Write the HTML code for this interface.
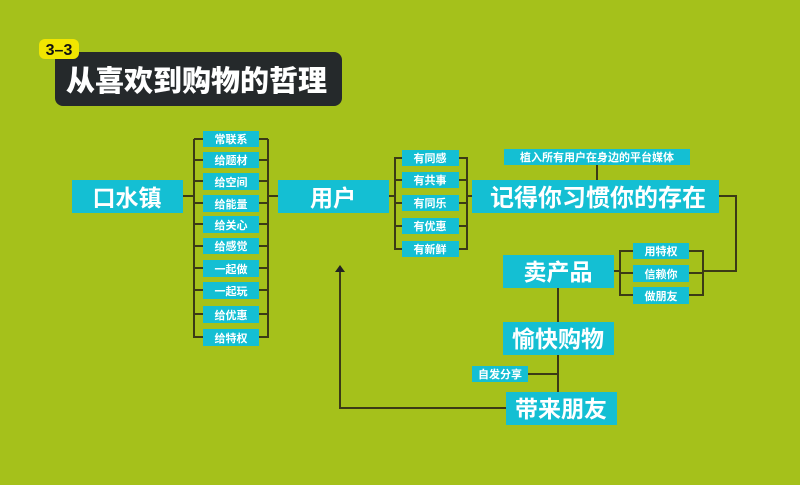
<!DOCTYPE html>
<html><head><meta charset="utf-8"><style>
html,body{margin:0;padding:0;}
body{width:800px;height:480px;background:#a5c11b;overflow:hidden;font-family:"Liberation Sans","Noto Sans CJK SC",sans-serif;}
</style></head><body>
<svg width="800" height="480" viewBox="0 0 800 480" xmlns="http://www.w3.org/2000/svg" font-family="'Liberation Sans','Noto Sans CJK SC',sans-serif" font-weight="bold">
<rect width="800" height="480" fill="#a5c11b"/>
<!-- title -->
<rect x="55" y="52" width="287" height="54" rx="8" fill="#25292b"/>
<rect x="39" y="39" width="40" height="20" rx="6" fill="#f2e600"/>
<text x="59" y="55" font-size="16" fill="#111" text-anchor="middle" font-weight="900">3–3</text>
<text x="66" y="91" font-size="29" fill="#fff" font-weight="900">从喜欢到购物的哲理</text>

<g stroke="#3b3a16" stroke-width="2" fill="none">
<line x1="183" y1="196" x2="194" y2="196"/>
<line x1="194" y1="139" x2="194" y2="338"/>
<line x1="268" y1="139" x2="268" y2="338"/>
<line x1="268" y1="196" x2="278" y2="196"/>
<path d="M194 139H203M194 160H203M194 181H203M194 203H203M194 224H203M194 246H203M194 268H203M194 290H203M194 314H203M194 337H203"/>
<path d="M259 139H268M259 160H268M259 181H268M259 203H268M259 224H268M259 246H268M259 268H268M259 290H268M259 314H268M259 337H268"/>
<line x1="389" y1="196" x2="395" y2="196"/>
<line x1="395" y1="157" x2="395" y2="250"/>
<line x1="467" y1="157" x2="467" y2="250"/>
<line x1="467" y1="196" x2="472" y2="196"/>
<path d="M395 158H402M395 180H402M395 203H402M395 226H402M395 249H402"/>
<path d="M459 158H467M459 180H467M459 203H467M459 226H467M459 249H467"/>
<line x1="597" y1="165" x2="597" y2="180"/>
<path d="M719 196H736V271H703"/>
<line x1="614" y1="271" x2="620" y2="271"/>
<line x1="620" y1="250" x2="620" y2="296"/>
<line x1="703" y1="250" x2="703" y2="296"/>
<path d="M620 251H633M620 273H633M620 295H633M689 251H703M689 273H703M689 295H703"/>
<line x1="558" y1="288" x2="558" y2="392"/>
<line x1="528" y1="374" x2="558" y2="374"/>
<path d="M506 408H340V272"/>
</g>
<polygon points="340,265 335,272 345,272" fill="#222"/>

<g fill="#14bfd3">
<rect x="72" y="180" width="111" height="33"/>
<rect x="278" y="180" width="111" height="33"/>
<rect x="472" y="180" width="247" height="33"/>
<rect x="504" y="149" width="186" height="16"/>
<rect x="503" y="255" width="111" height="33"/>
<rect x="503" y="322" width="111" height="33"/>
<rect x="506" y="392" width="111" height="33"/>
<rect x="472" y="366" width="56" height="16"/>
<rect x="203" y="131" width="56" height="16"/><rect x="203" y="152" width="56" height="16"/>
<rect x="203" y="173" width="56" height="17"/><rect x="203" y="195" width="56" height="17"/>
<rect x="203" y="216" width="56" height="17"/><rect x="203" y="238" width="56" height="16"/>
<rect x="203" y="260" width="56" height="17"/><rect x="203" y="282" width="56" height="17"/>
<rect x="203" y="306" width="56" height="17"/><rect x="203" y="329" width="56" height="17"/>
<rect x="402" y="150" width="57" height="16"/><rect x="402" y="172" width="57" height="16"/>
<rect x="402" y="195" width="57" height="16"/><rect x="402" y="218" width="57" height="16"/>
<rect x="402" y="241" width="57" height="16"/>
<rect x="633" y="243" width="56" height="16"/><rect x="633" y="265" width="56" height="17"/>
<rect x="633" y="287" width="56" height="17"/>
</g>

<g fill="#fff" text-anchor="middle">
<text x="127" y="206" font-size="23">口水镇</text>
<text x="333" y="206" font-size="23">用户</text>
<text x="598" y="206" font-size="24">记得你习惯你的存在</text>
<text x="558" y="280" font-size="23">卖产品</text>
<text x="558" y="347" font-size="23">愉快购物</text>
<text x="561" y="417" font-size="23">带来朋友</text>
<g font-size="11">
<text x="597" y="161">植入所有用户在身边的平台媒体</text>
<text x="500" y="378">自发分享</text>
<text x="231" y="143">常联系</text><text x="231" y="164">给题材</text>
<text x="231" y="186">给空间</text><text x="231" y="208">给能量</text>
<text x="231" y="229">给关心</text><text x="231" y="250">给感觉</text>
<text x="231" y="273">一起做</text><text x="231" y="295">一起玩</text>
<text x="231" y="319">给优惠</text><text x="231" y="342">给特权</text>
<text x="430" y="162">有同感</text><text x="430" y="184">有共事</text>
<text x="430" y="207">有同乐</text><text x="430" y="230">有优惠</text>
<text x="430" y="253">有新鲜</text>
<text x="661" y="255">用特权</text><text x="661" y="278">信赖你</text>
<text x="661" y="300">做朋友</text>
</g>
</g>
</svg>
</body></html>
